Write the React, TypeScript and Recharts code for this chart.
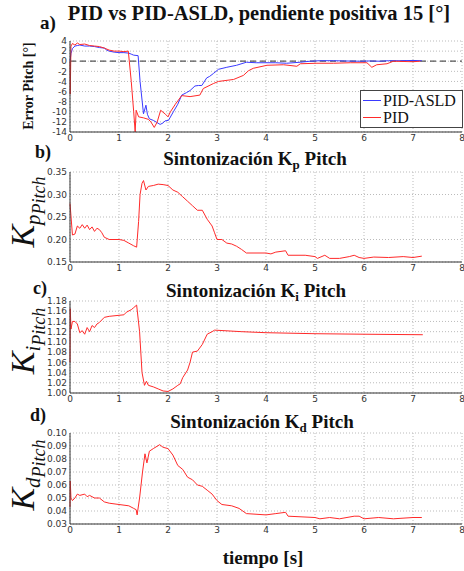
import React from 'react';
import { LineChart, Line, XAxis, YAxis, CartesianGrid, ReferenceLine, Legend } from 'recharts';

// tiempo [s] de cada serie y sus valores
const errAsldT = [0, 0.02, 0.05, 0.1, 0.15, 0.2, 0.3, 0.4, 0.5, 0.6, 0.7, 0.75, 0.8, 0.9, 1.0, 1.1, 1.2, 1.25, 1.3, 1.39, 1.43, 1.5, 1.55, 1.58, 1.62, 1.7, 1.77, 1.84, 1.9, 1.94, 2.01, 2.11, 2.2, 2.28, 2.38, 2.45, 2.55, 2.62, 2.69, 2.79, 2.85, 2.93, 3.03, 3.2, 3.4, 3.6, 3.8, 4.02, 4.2, 4.42, 4.7, 4.9, 5.1, 5.38, 5.6, 5.93, 6.1, 6.33, 6.5, 6.74, 7.0, 7.18];
const errAsldV = [0, 1.5, 2.5, 3.0, 3.1, 3.2, 3.0, 3.0, 2.9, 2.7, 2.6, 2.2, 2.0, 1.8, 1.7, 1.7, 1.6, 1.4, 1.2, 1.1, -4, -10.4, -8.7, -10.5, -11.4, -11.7, -12.1, -12.5, -12.2, -11.8, -11.7, -10.0, -8.5, -6.7, -6.2, -5.8, -4.9, -4.8, -4.8, -3.3, -3.0, -2.4, -1.6, -1.2, -0.8, -0.2, -0.3, -0.3, -0.3, -0.4, -0.2, 0, 0.1, 0.1, 0.05, 0, 0.05, 0, 0.1, 0.1, 0.15, 0.1];

const errPidT = [0, 0.005, 0.02, 0.05, 0.1, 0.15, 0.2, 0.3, 0.4, 0.5, 0.6, 0.7, 0.8, 0.9, 1.0, 1.1, 1.19, 1.25, 1.3, 1.33, 1.35, 1.4, 1.5, 1.6, 1.65, 1.72, 1.78, 1.85, 1.95, 2.0, 2.05, 2.15, 2.28, 2.45, 2.65, 2.72, 2.93, 3.03, 3.34, 3.54, 3.64, 3.74, 4.02, 4.36, 4.63, 4.7, 5.04, 5.38, 5.72, 6.06, 6.16, 6.26, 6.47, 6.6, 7.0, 7.15];
const errPidV = [0, -6.5, 3.0, 3.5, 3.2, 3.6, 3.3, 3.4, 3.1, 3.0, 2.9, 2.6, 2.2, 2.0, 2.0, 1.9, 2.0, -4, -10, -14, -9.7, -11.0, -11.2, -11.5, -12.0, -13.1, -12.0, -9.7, -10.5, -11.0, -10.0, -8.5, -6.8, -7.0, -6.7, -5.4, -4.4, -4.0, -3.6, -2.8, -1.9, -1.4, -0.8, -0.7, -1.0, -0.5, -0.4, -0.4, -0.3, -0.3, -1.2, -0.7, -0.5, 0, -0.1, 0];

const kpT = [0, 0.05, 0.1, 0.15, 0.2, 0.25, 0.3, 0.35, 0.4, 0.45, 0.5, 0.55, 0.6, 0.65, 0.7, 0.8, 1.0, 1.1, 1.2, 1.3, 1.36, 1.4, 1.43, 1.47, 1.5, 1.55, 1.6, 1.7, 1.8, 1.9, 2.0, 2.1, 2.2, 2.3, 2.4, 2.5, 2.6, 2.7, 2.8, 2.9, 2.95, 3.0, 3.1, 3.2, 3.3, 3.4, 3.5, 3.6, 4.0, 4.1, 4.2, 4.4, 4.45, 4.8, 5.0, 5.05, 5.2, 5.3, 5.5, 5.7, 5.8, 5.9, 6.0, 6.2, 6.5, 6.8, 7.0, 7.18];
const kpV = [0.28, 0.21, 0.212, 0.23, 0.225, 0.233, 0.225, 0.232, 0.222, 0.228, 0.218, 0.225, 0.222, 0.215, 0.205, 0.2, 0.2, 0.198, 0.192, 0.186, 0.183, 0.24, 0.3, 0.325, 0.331, 0.31, 0.318, 0.32, 0.323, 0.322, 0.32, 0.31, 0.305, 0.295, 0.285, 0.275, 0.265, 0.265, 0.245, 0.23, 0.215, 0.2, 0.2, 0.192, 0.19, 0.185, 0.178, 0.17, 0.17, 0.168, 0.172, 0.175, 0.165, 0.165, 0.162, 0.158, 0.165, 0.158, 0.158, 0.162, 0.165, 0.16, 0.158, 0.161, 0.16, 0.162, 0.16, 0.163];

const kiT = [0, 0.005, 0.02, 0.05, 0.1, 0.15, 0.2, 0.25, 0.3, 0.35, 0.4, 0.45, 0.5, 0.55, 0.6, 0.7, 0.8, 1.0, 1.1, 1.15, 1.25, 1.3, 1.36, 1.42, 1.47, 1.52, 1.56, 1.6, 1.7, 1.8, 1.9, 2.0, 2.1, 2.2, 2.25, 2.3, 2.4, 2.45, 2.5, 2.6, 2.7, 2.8, 2.9, 2.95, 3.5, 4.0, 5.0, 6.0, 7.2];
const kiV = [1.06, 1.165, 1.125, 1.14, 1.14, 1.135, 1.118, 1.122, 1.115, 1.128, 1.12, 1.132, 1.128, 1.135, 1.138, 1.148, 1.15, 1.152, 1.153, 1.158, 1.163, 1.167, 1.172, 1.12, 1.04, 1.015, 1.023, 1.015, 1.012, 1.008, 1.004, 1.003, 1.008, 1.015, 1.018, 1.03, 1.045, 1.06, 1.08, 1.082, 1.095, 1.115, 1.12, 1.123, 1.12, 1.118, 1.116, 1.115, 1.114];

const kdT = [0, 0.005, 0.02, 0.05, 0.1, 0.15, 0.2, 0.3, 0.35, 0.4, 0.5, 0.6, 0.7, 0.8, 1.0, 1.2, 1.3, 1.35, 1.37, 1.42, 1.48, 1.53, 1.57, 1.62, 1.7, 1.83, 1.9, 2.0, 2.1, 2.2, 2.3, 2.4, 2.5, 2.6, 2.7, 2.8, 2.9, 3.0, 3.1, 3.3, 3.45, 3.6, 4.0, 4.2, 4.4, 4.45, 5.0, 5.1, 5.3, 5.5, 5.8, 5.9, 6.0, 6.3, 6.6, 7.0, 7.18];
const kdV = [0.043, 0.063, 0.05, 0.048, 0.05, 0.053, 0.052, 0.053, 0.051, 0.052, 0.05, 0.05, 0.047, 0.046, 0.045, 0.044, 0.042, 0.041, 0.037, 0.05, 0.07, 0.084, 0.077, 0.086, 0.088, 0.091, 0.089, 0.088, 0.083, 0.075, 0.072, 0.066, 0.064, 0.06, 0.059, 0.056, 0.053, 0.048, 0.045, 0.044, 0.042, 0.038, 0.037, 0.038, 0.039, 0.036, 0.035, 0.034, 0.035, 0.034, 0.036, 0.036, 0.034, 0.035, 0.034, 0.035, 0.035];

const xTicks = [0, 1, 2, 3, 4, 5, 6, 7, 8];
const errTicks = [-14, -12, -10, -8, -6, -4, -2, 0, 2, 4];
const kpTicks = [0.15, 0.2, 0.25, 0.3, 0.35];
const kiTicks = [1.0, 1.02, 1.04, 1.06, 1.08, 1.1, 1.12, 1.14, 1.16, 1.18];
const kdTicks = [0.03, 0.04, 0.05, 0.06, 0.07, 0.08, 0.09, 0.1];

const zip = (t: number[], v: number[]) => t.map((x, i) => ({ t: x, v: v[i] }));

const RED = '#ff2a2a';
const BLUE = '#3a3aff';
const tickStyle = { fontFamily: 'DejaVu Sans', fontSize: 9, fill: '#333' };
const serif = "'Liberation Serif', serif";

const LegendBox = () => (
  <div style={{ border: '1.5px solid #444', background: '#fff', width: 103, height: 38, boxSizing: 'border-box', fontFamily: serif, fontSize: 16, color: '#111', lineHeight: '17px', paddingTop: 1 }}>
    {[{ c: BLUE, n: 'PID-ASLD' }, { c: RED, n: 'PID' }].map((e) => (
      <div key={e.n} style={{ display: 'flex', alignItems: 'center', height: 17 }}>
        <span style={{ width: 18, height: 0, borderTop: `1.5px solid ${e.c}`, marginLeft: 2, marginRight: 2 }} />
        <span>{e.n}</span>
      </div>
    ))}
  </div>
);

interface PanelProps {
  top: number;
  height: number;
  mTop: number;
  ticks: number[];
  digits: number;
  children: React.ReactNode;
}

function Panel({ top, height, mTop, ticks, digits, children }: PanelProps) {
  return (
    <div style={{ position: 'absolute', left: 0, top }}>
      <LineChart width={464} height={height} margin={{ top: mTop, right: 2, left: 0, bottom: 0 }}>
        <CartesianGrid stroke="#bbb" strokeDasharray="1 2" />
        <XAxis dataKey="t" type="number" domain={[0, 8]} ticks={xTicks} interval={0} height={14} tickLine={false} tickSize={0} tickMargin={3}
          axisLine={{ stroke: '#333' }} tick={tickStyle} allowDuplicatedCategory={false} />
        <YAxis type="number" domain={[ticks[0], ticks[ticks.length - 1]]} ticks={ticks} interval={0} width={70} tickLine={false} tickSize={0}
          tickMargin={3} axisLine={{ stroke: '#333' }} tick={tickStyle} tickFormatter={(v: number) => v.toFixed(digits)} allowDataOverflow />
        {children}
      </LineChart>
    </div>
  );
}

const Rot = ({ x, y, children }: { x: number; y: number; children: React.ReactNode }) => (
  <div style={{ position: 'absolute', left: x, top: y, transform: 'translate(-50%, -50%) rotate(-90deg)', whiteSpace: 'nowrap' }}>{children}</div>
);

const KLabel = ({ sub }: { sub: string }) => (
  <span style={{ fontFamily: serif, fontStyle: 'italic', fontSize: 34, color: '#111', lineHeight: 1 }}>
    K<span style={{ fontSize: 21, verticalAlign: '-0.3em' }}>{sub}<span style={{ fontSize: 18, verticalAlign: '-0.25em' }}>Pitch</span></span>
  </span>
);

const Title = ({ x, y, size, children }: { x: number; y: number; size: number; children: React.ReactNode }) => (
  <div style={{ position: 'absolute', left: x, top: y, transform: 'translate(-50%, -50%)', whiteSpace: 'nowrap', fontFamily: serif, fontWeight: 'bold', fontSize: size, color: '#111', lineHeight: 1 }}>{children}</div>
);

export default function App() {
  return (
    <div style={{ position: 'absolute', left: 0, top: 0, width: 464, height: 571, background: '#fff', overflow: 'hidden' }}>
      <Panel top={0} height={146} mTop={41} ticks={errTicks} digits={0}>
        <ReferenceLine y={0} stroke="#555" strokeDasharray="6 4" strokeWidth={1.2} />
        <Line data={zip(errAsldT, errAsldV)} dataKey="v" name="PID-ASLD" stroke={BLUE} dot={false} strokeWidth={1} isAnimationActive={false} />
        <Line data={zip(errPidT, errPidV)} dataKey="v" name="PID" stroke={RED} dot={false} strokeWidth={1} isAnimationActive={false} />
        <Legend content={<LegendBox />} layout="vertical" align="center" verticalAlign="middle"
          wrapperStyle={{ left: 360, top: 90, width: 103, height: 38 }} />
      </Panel>
      <Panel top={142} height={134} mTop={30} ticks={kpTicks} digits={2}>
        <Line data={zip(kpT, kpV)} dataKey="v" stroke={RED} dot={false} strokeWidth={1} isAnimationActive={false} />
      </Panel>
      <Panel top={271} height={136} mTop={30} ticks={kiTicks} digits={2}>
        <Line data={zip(kiT, kiV)} dataKey="v" stroke={RED} dot={false} strokeWidth={1} isAnimationActive={false} />
      </Panel>
      <Panel top={403} height={135} mTop={30} ticks={kdTicks} digits={2}>
        <Line data={zip(kdT, kdV)} dataKey="v" stroke={RED} dot={false} strokeWidth={1} isAnimationActive={false} />
      </Panel>

      <Title x={48} y={22} size={19}>a)</Title>
      <Title x={259} y={13} size={20.5}>PID vs PID-ASLD, pendiente positiva 15 [°]</Title>
      <Title x={43} y={152} size={18}>b)</Title>
      <Title x={255} y={160} size={19}>Sintonización K<sub style={{ fontSize: 13 }}>p</sub> Pitch</Title>
      <Title x={40} y={288} size={18}>c)</Title>
      <Title x={256} y={292} size={19}>Sintonización K<sub style={{ fontSize: 13 }}>i</sub> Pitch</Title>
      <Title x={38} y={415} size={18}>d)</Title>
      <Title x={262} y={423} size={19}>Sintonización K<sub style={{ fontSize: 13 }}>d</sub> Pitch</Title>
      <Title x={263} y={557} size={19}>tiempo [s]</Title>

      <Rot x={28} y={86}><span style={{ fontFamily: serif, fontWeight: 'bold', fontSize: 14, color: '#111' }}>Error Pitch [°]</span></Rot>
      <Rot x={27} y={212}><KLabel sub="p" /></Rot>
      <Rot x={27} y={341}><KLabel sub="i" /></Rot>
      <Rot x={27} y={475}><KLabel sub="d" /></Rot>
    </div>
  );
}
